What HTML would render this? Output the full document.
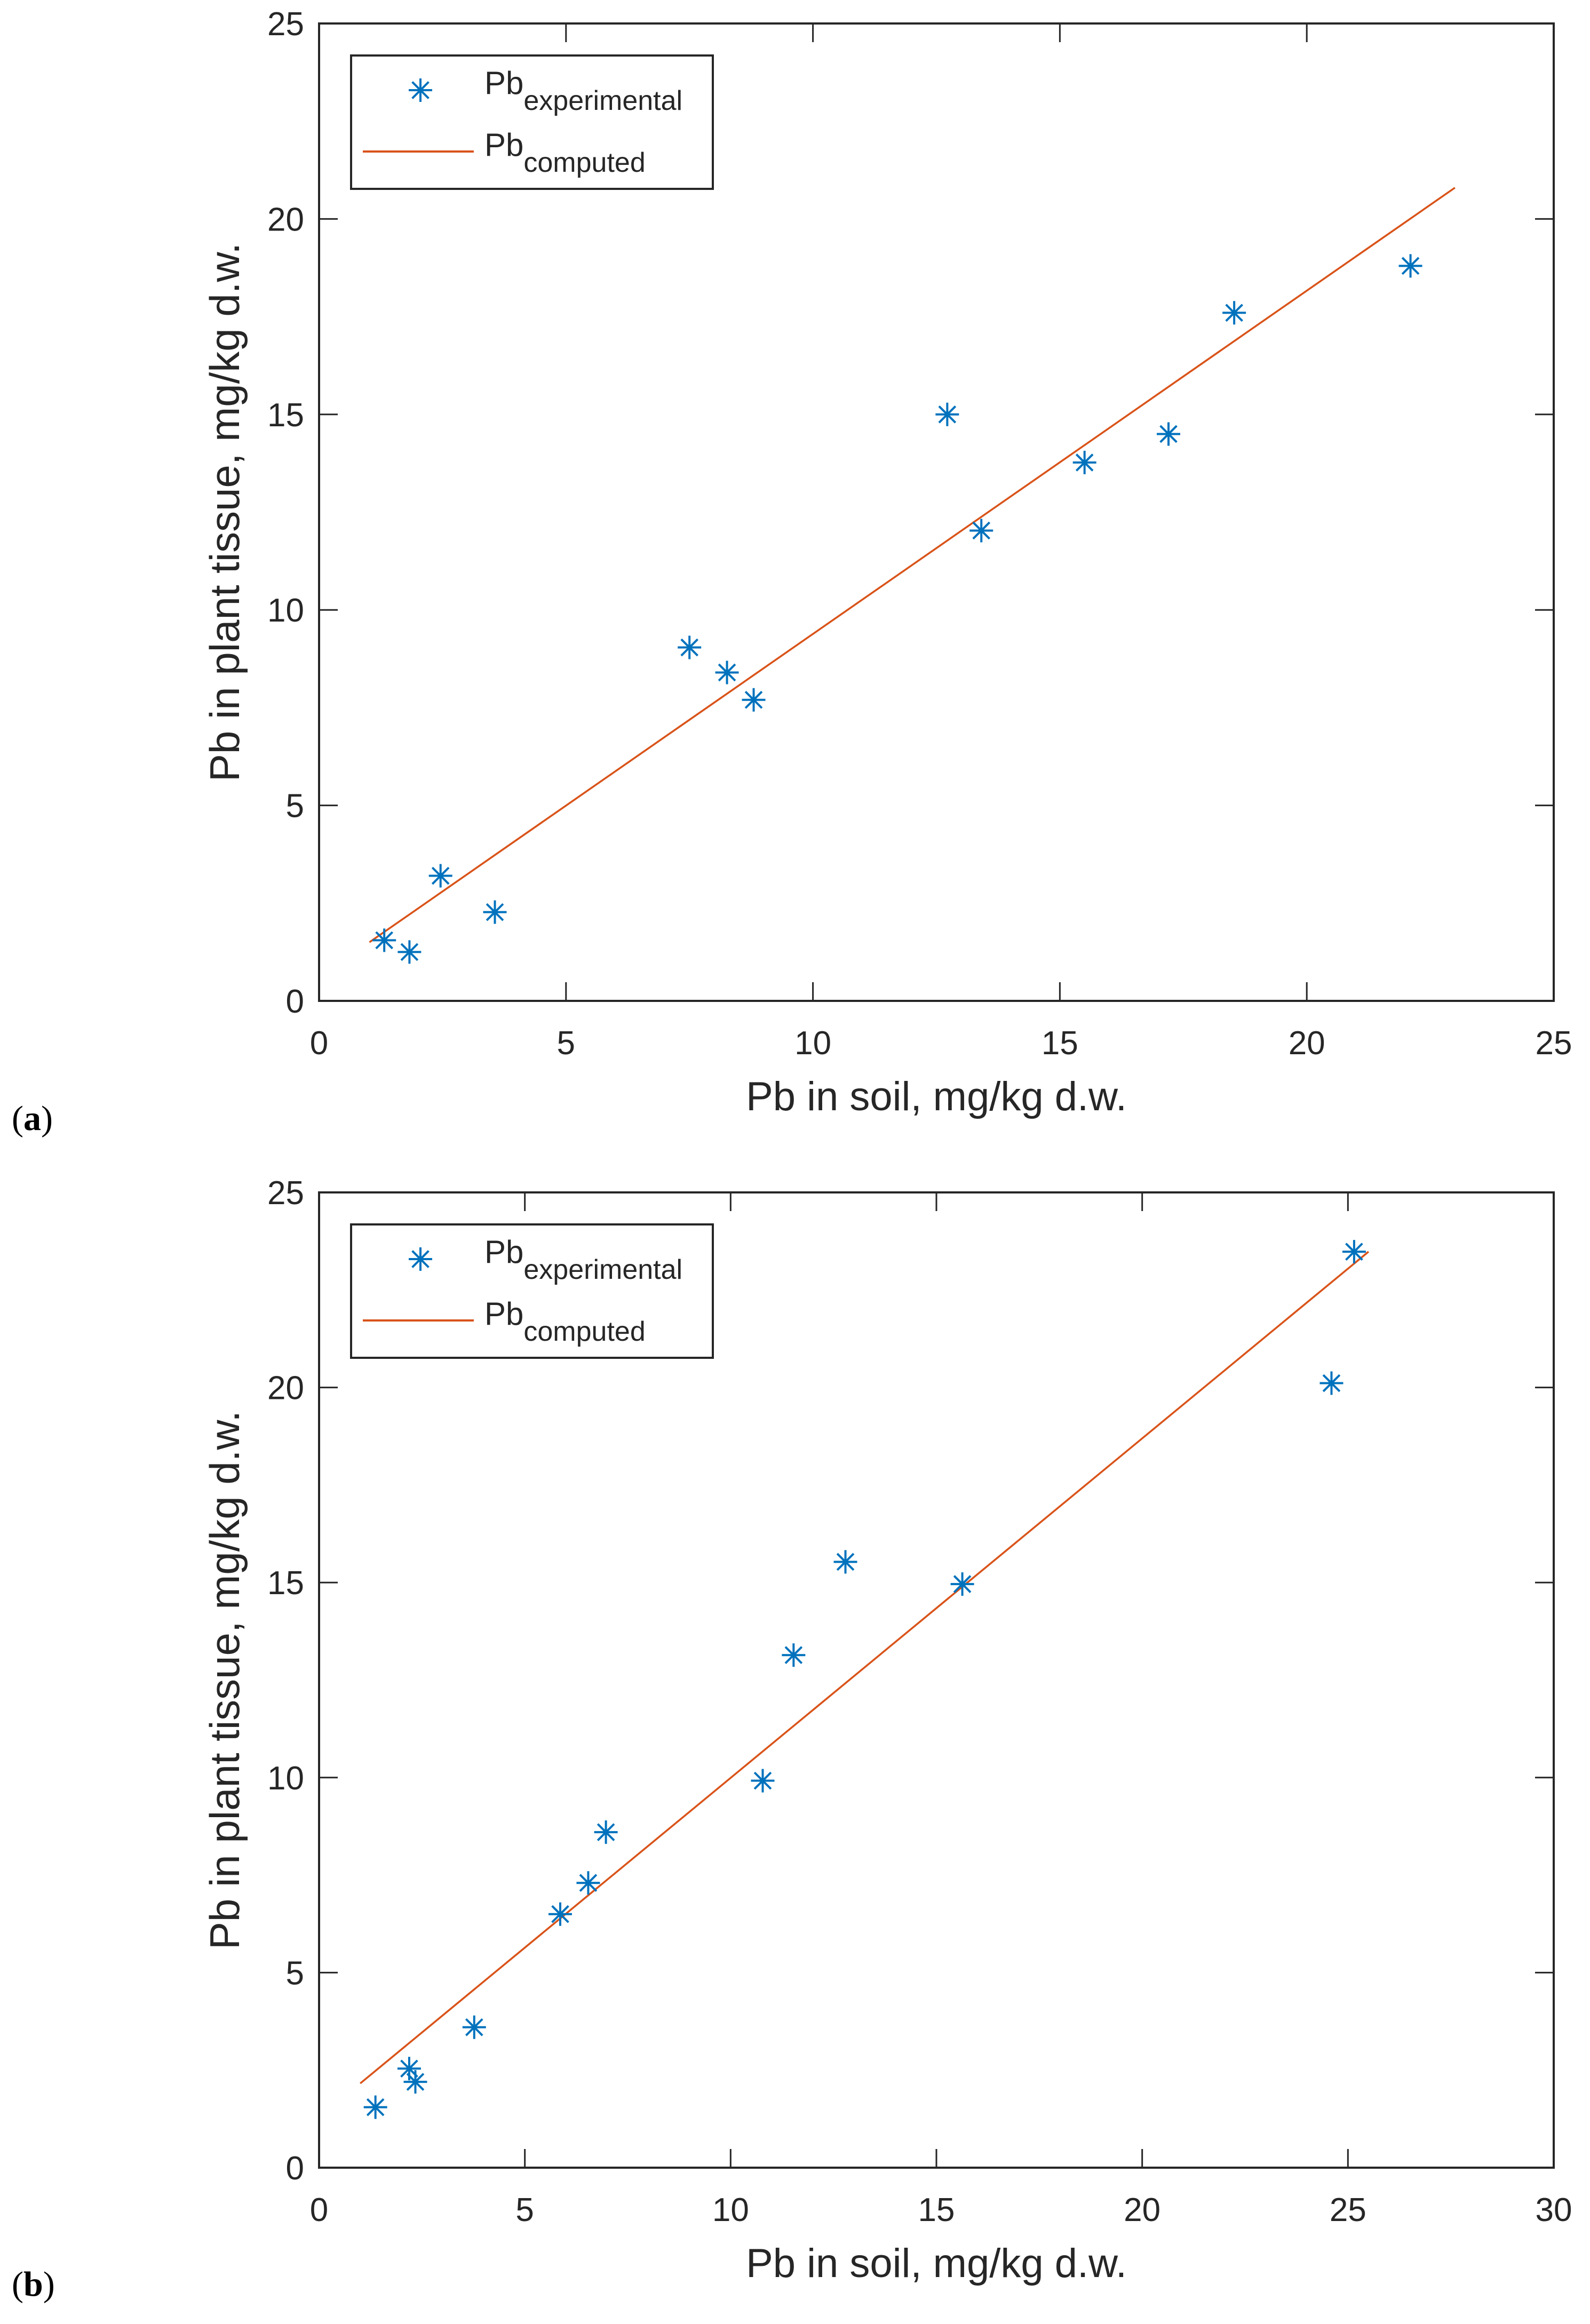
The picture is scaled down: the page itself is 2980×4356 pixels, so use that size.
<!DOCTYPE html>
<html><head><meta charset="utf-8">
<style>
html,body{margin:0;padding:0;background:#fff;}
svg{display:block;}
text{font-family:"Liberation Sans",sans-serif;fill:#262626;}
</style></head>
<body>
<svg id="fig" width="2980" height="4356" viewBox="0 0 2980 4356" xmlns="http://www.w3.org/2000/svg">
<text x="22" y="2118" style="font-family:'Liberation Serif',serif;font-size:66px;fill:#000">(<tspan font-weight="bold">a</tspan>)</text>
<text x="22" y="4303" style="font-family:'Liberation Serif',serif;font-size:66px;fill:#000">(<tspan font-weight="bold">b</tspan>)</text>
</svg>
<script>
// Panel (a)
const aSoil = [1.32,1.83,2.46,3.56,7.5,8.26,8.8,12.72,13.41,15.5,17.2,18.53,22.1];
const aPlant = [1.55,1.25,3.2,2.27,9.04,8.4,7.7,15.0,12.03,13.77,14.5,17.6,18.8];
const aLineX = [1.02,23.0];
const aLineY = [1.5,20.8];
const aXTicks = [0,5,10,15,20,25];
const aYTicks = [0,5,10,15,20,25];
// Panel (b)
const bSoil = [1.37,2.19,2.34,3.77,5.86,6.54,6.97,10.78,11.53,12.79,15.63,24.6,25.15];
const bPlant = [1.55,2.54,2.2,3.6,6.5,7.3,8.6,9.92,13.14,15.53,14.96,20.11,23.48];
const bLineX = [1.0,25.5];
const bLineY = [2.16,23.48];
const bXTicks = [0,5,10,15,20,25,30];
const bYTicks = [0,5,10,15,20,25];

const NS="http://www.w3.org/2000/svg";
const svg=document.getElementById('fig');
function mk(tag,attrs,parent){const e=document.createElementNS(NS,tag);for(const k in attrs)e.setAttribute(k,attrs[k]);(parent||svg).appendChild(e);return e;}

function panel(id,box,xmax,ymax,xt,yt,sx,sy,lx,ly){
  const g=mk('g',{});
  
  
  const X=v=>box.l+(v/xmax)*(box.r-box.l);
  const Y=v=>box.b-(v/ymax)*(box.b-box.t);
  const tl=35;
  xt.forEach(v=>{
    const x=X(v);
    const t1=mk('line',{x1:x,y1:box.b,x2:x,y2:box.b-tl,stroke:'#262626','stroke-width':3},g);
    
    
    mk('line',{x1:x,y1:box.t,x2:x,y2:box.t+tl,stroke:'#262626','stroke-width':3},g);
    const tx=mk('text',{x:x,y:box.b+100,'text-anchor':'middle','font-size':62},g);
    tx.textContent=v;
    
    
  });
  yt.forEach(v=>{
    const y=Y(v);
    const t1=mk('line',{x1:box.l,y1:y,x2:box.l+tl,y2:y,stroke:'#262626','stroke-width':3},g);
    
    
    mk('line',{x1:box.r,y1:y,x2:box.r-tl,y2:y,stroke:'#262626','stroke-width':3},g);
    const ty=mk('text',{x:box.l-28,y:y+22,'text-anchor':'end','font-size':62},g);
    ty.textContent=v;
    
    
  });
  const frame=mk('rect',{x:box.l,y:box.t,width:box.r-box.l,height:box.b-box.t,fill:'none',stroke:'#262626','stroke-width':4},g);
  
  
  const xl=mk('text',{x:(box.l+box.r)/2,y:box.b+205,'text-anchor':'middle','font-size':76},g);
  xl.textContent='Pb in soil, mg/kg d.w.';
  
  
  const cy=(box.t+box.b)/2;
  const yl=mk('text',{x:448,y:cy,'text-anchor':'middle','font-size':78,transform:'rotate(-90 448 '+cy+')'},g);
  yl.textContent='Pb in plant tissue, mg/kg d.w.';
  
  
  const ln=mk('line',{x1:X(lx[0]),y1:Y(ly[0]),x2:X(lx[1]),y2:Y(ly[1]),stroke:'#D95319','stroke-width':3.5},g);
  
  
  const star=(cx,cy2,parent)=>{
    const s=mk('g',{stroke:'#0072BD','stroke-width':4},parent);
    const r=22;
    mk('line',{x1:cx-r,y1:cy2,x2:cx+r,y2:cy2},s);
    mk('line',{x1:cx,y1:cy2-r,x2:cx,y2:cy2+r},s);
    mk('line',{x1:cx-r*0.7,y1:cy2-r*0.7,x2:cx+r*0.7,y2:cy2+r*0.7},s);
    mk('line',{x1:cx-r*0.7,y1:cy2+r*0.7,x2:cx+r*0.7,y2:cy2-r*0.7},s);
    return s;
  };
  sx.forEach((v,i)=>{
    const s=star(X(v),Y(sy[i]),g);
    
    
  });
  // legend
  const L={x:box.l+60,y:box.t+60,w:678,h:250};
  const lg=mk('g',{},g);
  
  
  mk('rect',{x:L.x,y:L.y,width:L.w,height:L.h,fill:'#fff',stroke:'#262626','stroke-width':4},lg);
  const s=star(L.x+130,L.y+65,lg);
  
  
  mk('line',{x1:L.x+22,y1:L.y+180,x2:L.x+230,y2:L.y+180,stroke:'#D95319','stroke-width':4},lg);
  const t1=mk('text',{x:L.x+250,y:L.y+72,'font-size':60},lg);
  t1.innerHTML='Pb<tspan font-size="52" dy="30">experimental</tspan>';
  
  
  const t2=mk('text',{x:L.x+250,y:L.y+188,'font-size':60},lg);
  t2.innerHTML='Pb<tspan font-size="52" dy="30">computed</tspan>';
  
  
}
panel('a',{l:598,r:2912,t:44,b:1876},25,25,aXTicks,aYTicks,aSoil,aPlant,aLineX,aLineY);
panel('b',{l:598,r:2912,t:2235,b:4063},30,25,bXTicks,bYTicks,bSoil,bPlant,bLineX,bLineY);
</script>
</body></html>
